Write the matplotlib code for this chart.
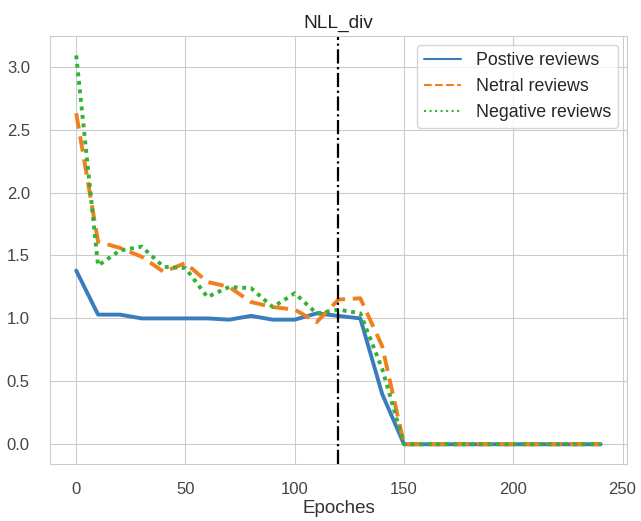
import matplotlib
matplotlib.use("Agg")
import matplotlib.pyplot as plt
import seaborn as sns

sns.set_style("whitegrid")
plt.rcParams["font.family"] = ["Liberation Sans", "DejaVu Sans"]

epochs = list(range(0, 250, 10))

# loss curves per review class
positive = [1.38, 1.03, 1.03, 1.00, 1.00, 1.00, 1.00, 0.99, 1.02, 0.99, 0.99, 1.04, 1.02, 1.00, 0.40,
            0.0, 0.0, 0.0, 0.0, 0.0, 0.0, 0.0, 0.0, 0.0, 0.0]
neutral = [2.63, 1.61, 1.56, 1.49, 1.37, 1.44, 1.29, 1.25, 1.13, 1.09, 1.07, 0.97, 1.15, 1.16, 0.78,
           0.0, 0.0, 0.0, 0.0, 0.0, 0.0, 0.0, 0.0, 0.0, 0.0]
negative = [3.09, 1.42, 1.54, 1.57, 1.41, 1.40, 1.17, 1.25, 1.24, 1.09, 1.20, 1.04, 1.07, 1.04, 0.60,
            0.0, 0.0, 0.0, 0.0, 0.0, 0.0, 0.0, 0.0, 0.0, 0.0]
labels = ["Postive reviews", "Netral reviews", "Negative reviews"]
cut_epoch = 120

fig = plt.figure(figsize=(6.41, 5.21), dpi=100)
ax = fig.add_axes([0.078, 0.11, 0.900, 0.821])

ax.plot(epochs, positive, color="#3a7dbd", linestyle="-", linewidth=2.8, label=labels[0])
ax.plot(epochs, neutral, color="#f07f1f", linestyle=(0, (4, 2)), linewidth=2.8, label=labels[1])
ax.plot(epochs, negative, color="#33b233", linestyle=(0, (1, 1.2)), linewidth=2.8, label=labels[2])
ax.axvline(cut_epoch, color="black", linestyle="-.", linewidth=1.6)

ax.set_title("NLL_div", fontsize=13.8, color="#222222")
ax.set_xlabel("Epoches", fontsize=13.5, color="#333333", labelpad=1.5)
ax.tick_params(axis="x", labelsize=12, colors="#444444", pad=10)
ax.tick_params(axis="y", labelsize=12, colors="#444444", pad=11)

leg = ax.legend(loc="upper right", fontsize=12.8, handlelength=2.1)
leg.get_lines()[0].set_linewidth(1.5)
leg.get_lines()[1].set_linewidth(1.5)
leg.get_lines()[1].set_linestyle("--")
leg.get_lines()[2].set_linewidth(1.5)
leg.get_lines()[2].set_linestyle(":")

fig.savefig("out.png", dpi=100)
